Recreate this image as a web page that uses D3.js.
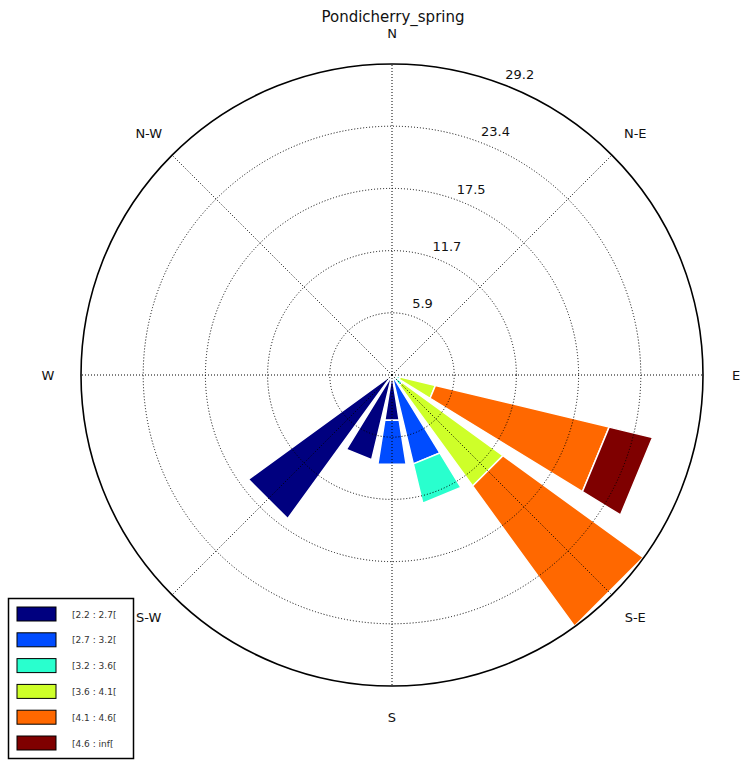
<!DOCTYPE html>
<html>
<head>
<meta charset="utf-8">
<script src="https://cdn.jsdelivr.net/npm/d3@7"></script>
<style>
  html, body { margin: 0; padding: 0; background: #fff; }
  svg { display: block; font-family: "DejaVu Sans", sans-serif; }
</style>
</head>
<body>
<svg id="chart" width="750" height="764"></svg>
<script>
// Wind rose: frequency (%) of wind per direction sector, stacked by speed class.
const title = "Pondicherry_spring";

// 16 compass sectors, clockwise from north (degrees)
const sectors = ["N","NNE","NE","ENE","E","ESE","SE","SSE","S","SSW","SW","WSW","W","WNW","NW","NNW"];
const sectorAngles = [0,22.5,45,67.5,90,112.5,135,157.5,180,202.5,225,247.5,270,292.5,315,337.5];

// Speed classes (legend labels) and their frequencies per sector
const speedBins = ["[2.2 : 2.7[", "[2.7 : 3.2[", "[3.2 : 3.6[", "[3.6 : 4.1[", "[4.1 : 4.6[", "[4.6 : inf["];
const bin1 = [0,0,0,0,0,0,   0,   0.3, 4.3, 8.2, 16.7,0,0,0,0,0];
const bin2 = [0,0,0,0,0,0.2, 0.4, 8.3, 4.2, 0,   0,   0,0,0,0,0];
const bin3 = [0,0,0,0,0,0.6, 0.8, 3.8, 0,   0,   0,   0,0,0,0,0];
const bin4 = [0,0,0,0,0,3.4, 11.7,0,   0,   0,   0,   0,0,0,0,0];
const bin5 = [0,0,0,0,0,16.8,16.3,0,   0,   0,   0,   0,0,0,0,0];
const bin6 = [0,0,0,0,0,4.2, 0,   0,   0,   0,   0,   0,0,0,0,0];
const binValues = [bin1, bin2, bin3, bin4, bin5, bin6];

// jet colormap samples for the six classes
const binColors = ["#00007f", "#004cff", "#29ffce", "#ceff29", "#ff6800", "#7f0000"];

// Radial grid: 5 rings up to the largest sector total
const rMax = 29.25;
const ringValues = [5.85, 11.7, 17.55, 23.4, 29.25];
const ringLabels = ["5.9", "11.7", "17.5", "23.4", "29.2"];

// Direction labels every 45 degrees
const dirLabels = ["N", "N-E", "E", "S-E", "S", "S-W", "W", "N-W"];
const dirLabelAngles = [0, 45, 90, 135, 180, 225, 270, 315];

const svg = d3.select("#chart");
const cx = 392, cy = 375, R = 311;
const opening = 0.8; // fraction of the sector width covered by a bar

const r = d3.scaleLinear().domain([0, rMax]).range([0, R]);
const toRad = d => d * Math.PI / 180;
const px = (deg, rad) => cx + rad * Math.sin(toRad(deg));
const py = (deg, rad) => cy - rad * Math.cos(toRad(deg));

const g = svg.append("g");

// Title
svg.append("text")
  .attr("x", 393).attr("y", 22)
  .attr("text-anchor", "middle")
  .attr("font-size", 15)
  .attr("fill", "#111")
  .text(title);

// Stacked bars (straight-edged polygons)
const halfW = 22.5 * opening / 2;
const segments = [];
sectors.forEach((s, i) => {
  let base = 0;
  binValues.forEach((vals, b) => {
    const v = vals[i];
    if (v > 0) {
      segments.push({ angle: sectorAngles[i], r0: base, r1: base + v, color: binColors[b] });
    }
    base += v;
  });
});

const polyLine = d3.line();
g.selectAll("path.bar")
  .data(segments)
  .join("path")
  .attr("class", "bar")
  .attr("d", d => {
    const a0 = d.angle - halfW, a1 = d.angle + halfW;
    const ri = r(d.r0), ro = r(d.r1);
    return polyLine([
      [px(a0, ri), py(a0, ri)],
      [px(a0, ro), py(a0, ro)],
      [px(a1, ro), py(a1, ro)],
      [px(a1, ri), py(a1, ri)]
    ]) + "Z";
  })
  .attr("fill", d => d.color)
  .attr("stroke", "#fff")
  .attr("stroke-width", 1.5)
  .attr("stroke-linejoin", "miter");

// Dotted rings
g.selectAll("circle.ring")
  .data(ringValues.slice(0, -1))
  .join("circle")
  .attr("class", "ring")
  .attr("cx", cx).attr("cy", cy)
  .attr("r", d => r(d))
  .attr("fill", "none")
  .attr("stroke", "#000")
  .attr("stroke-width", 1)
  .attr("stroke-dasharray", "1,2");

// Dotted spokes
g.selectAll("line.spoke")
  .data(dirLabelAngles)
  .join("line")
  .attr("class", "spoke")
  .attr("x1", cx).attr("y1", cy)
  .attr("x2", d => px(d, R)).attr("y2", d => py(d, R))
  .attr("stroke", "#000")
  .attr("stroke-width", 1)
  .attr("stroke-dasharray", "1,2");

// Outer frame
g.append("circle")
  .attr("cx", cx).attr("cy", cy).attr("r", R)
  .attr("fill", "none")
  .attr("stroke", "#000")
  .attr("stroke-width", 1.6);

// Ring labels along 23 degrees
const labelAngle = 23;
g.selectAll("text.ring-label")
  .data(ringValues)
  .join("text")
  .attr("class", "ring-label")
  .attr("x", (d) => px(labelAngle, r(d) + 16))
  .attr("y", (d) => py(labelAngle, r(d) + 16) + 5)
  .attr("text-anchor", "middle")
  .attr("font-size", 13)
  .attr("fill", "#111")
  .text((d, i) => ringLabels[i]);

// Direction labels
g.selectAll("text.dir")
  .data(dirLabels)
  .join("text")
  .attr("class", "dir")
  .attr("x", (d, i) => px(dirLabelAngles[i], R + 33))
  .attr("y", (d, i) => py(dirLabelAngles[i], R + 31) + 5)
  .attr("text-anchor", "middle")
  .attr("font-size", 13)
  .attr("fill", "#111")
  .text(d => d);

// Legend
const legend = svg.append("g");
legend.append("rect")
  .attr("x", 8.5).attr("y", 598.5)
  .attr("width", 125).attr("height", 160)
  .attr("fill", "#fff")
  .attr("stroke", "#000")
  .attr("stroke-width", 1.5);

const rowY = d3.scalePoint().domain(speedBins).range([614, 743]);
legend.selectAll("rect.sw")
  .data(speedBins)
  .join("rect")
  .attr("class", "sw")
  .attr("x", 17).attr("y", d => rowY(d) - 7)
  .attr("width", 39).attr("height", 14)
  .attr("fill", (d, i) => binColors[i])
  .attr("stroke", "#000")
  .attr("stroke-width", 1);

legend.selectAll("text.lg")
  .data(speedBins)
  .join("text")
  .attr("class", "lg")
  .attr("x", 72).attr("y", d => rowY(d) + 3.5)
  .attr("font-size", 9)
  .attr("fill", "#333")
  .text(d => d);
</script>
</body>
</html>
